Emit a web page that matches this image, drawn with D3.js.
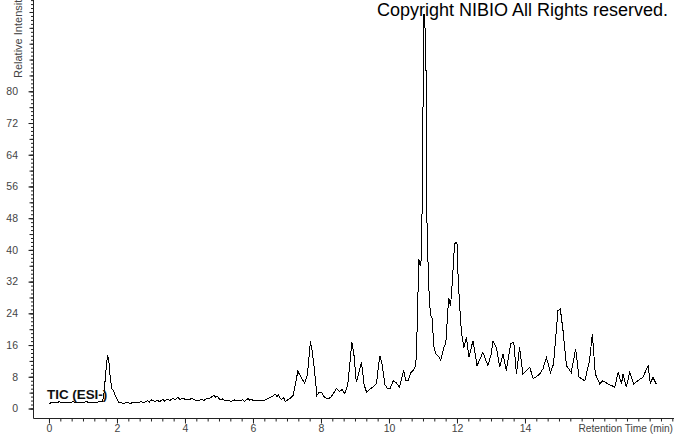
<!DOCTYPE html>
<html>
<head>
<meta charset="utf-8">
<script src="https://cdn.jsdelivr.net/npm/d3@7"></script>
<style>
  body { margin: 0; background: #fff; }
  svg { display: block; font-family: "Liberation Sans", Arial, sans-serif; }
  .axis path, .axis line { stroke: #222; }
  .axis text { fill: #444; font-size: 10.5px; }
</style>
</head>
<body>
<svg id="chart" width="674" height="434"></svg>
<script>
// Retention time (min) and relative intensity
var retentionTime = [
  0.0, 0.1, 0.2, 0.3, 0.4, 0.5, 0.6, 0.7, 0.8, 0.9, 1.0, 1.1, 1.2, 1.3, 1.4, 1.5,
  1.58, 1.62, 1.67, 1.72, 1.76, 1.8, 1.85, 1.9, 1.95, 2.0, 2.05, 2.1, 2.2, 2.3, 2.4,
  2.5, 2.6, 2.7, 2.8, 2.9, 2.95, 3.0, 3.1, 3.2, 3.25, 3.35, 3.4, 3.5, 3.55, 3.65,
  3.7, 3.8, 3.85, 3.95, 4.0, 4.1, 4.2, 4.3, 4.4, 4.5, 4.55, 4.65, 4.7, 4.8, 4.85,
  4.9, 4.95, 5.0, 5.05, 5.1, 5.2, 5.3, 5.35, 5.45, 5.5, 5.6, 5.7, 5.75, 5.85, 5.9,
  5.95, 6.0, 6.1, 6.2, 6.3, 6.4, 6.5, 6.6, 6.65, 6.7, 6.75, 6.8, 6.85, 6.9, 6.95,
  7.0, 7.05, 7.1, 7.18, 7.32, 7.42, 7.52, 7.6, 7.69, 7.75, 7.81, 7.88, 7.95, 8.01,
  8.1, 8.21, 8.3, 8.45, 8.55, 8.62, 8.7, 8.79, 8.91, 8.97, 9.04, 9.19, 9.27, 9.34,
  9.45, 9.53, 9.63, 9.73, 9.8, 9.88, 9.97, 10.04, 10.12, 10.2, 10.31, 10.43, 10.5,
  10.56, 10.64, 10.71, 10.78, 10.81, 10.84, 10.88, 10.92, 10.96, 11.0, 11.03, 11.06,
  11.09, 11.12, 11.17, 11.22, 11.27, 11.32, 11.37, 11.47, 11.52, 11.62, 11.67, 11.74,
  11.76, 11.81, 11.86, 11.93, 12.0, 12.03, 12.08, 12.13, 12.2, 12.28, 12.35, 12.47,
  12.59, 12.68, 12.76, 12.91, 13.0, 13.06, 13.16, 13.26, 13.35, 13.45, 13.58, 13.67,
  13.75, 13.84, 13.94, 14.04, 14.14, 14.24, 14.33, 14.43, 14.53, 14.63, 14.75, 14.84,
  14.97, 15.04, 15.12, 15.22, 15.36, 15.49, 15.59, 15.76, 15.9, 15.98, 16.07, 16.2,
  16.29, 16.44, 16.54, 16.64, 16.74, 16.84, 16.88, 16.98, 17.08, 17.2, 17.32, 17.47,
  17.62, 17.69, 17.76, 17.86
];
var intensity = [
  1.2, 1.6, 1.4, 1.7, 1.5, 1.6, 1.4, 1.7, 1.5, 1.6, 1.5, 1.7, 1.5, 1.6, 1.6, 1.7,
  1.8, 4.0, 9.0, 13.5, 12.0, 8.0, 5.0, 4.5, 3.2, 2.4, 1.6, 1.5, 1.3, 1.5, 1.3,
  1.6, 1.4, 1.7, 1.5, 2.0, 1.6, 2.2, 1.8, 2.0, 1.7, 2.3, 1.9, 2.4, 2.0, 2.5,
  2.2, 2.8, 2.3, 2.6, 2.3, 2.2, 2.5, 2.1, 2.0, 2.3, 2.0, 2.6, 2.4, 3.0, 3.4,
  2.8, 3.1, 2.5, 2.2, 2.4, 1.9, 2.0, 1.8, 2.2, 1.9, 2.0, 2.2, 1.8, 2.5, 2.1,
  2.4, 2.0, 1.9, 1.9, 2.0, 2.3, 2.8, 3.2, 3.7, 3.0, 3.4, 2.6, 2.3, 2.8, 1.8,
  2.0, 2.4, 2.6, 3.3, 9.4, 7.8, 6.4, 8.5, 16.9, 14.0, 9.6, 3.3, 4.1, 4.1,
  2.9, 2.4, 2.9, 5.0, 4.3, 4.8, 3.7, 6.2, 16.7, 13.5, 6.6, 11.6, 6.0, 4.1,
  5.0, 5.4, 6.2, 13.3, 11.0, 6.0, 4.9, 5.1, 7.0, 6.6, 5.4, 9.6, 7.0,
  7.0, 9.0, 9.6, 10.6, 13.8, 25.0, 37.7, 36.0, 38.0, 75.0, 99.5, 96.0,
  85.0, 45.0, 30.7, 23.6, 22.7, 15.6, 13.9, 13.0, 12.2, 15.6, 16.3, 25.7,
  27.8, 25.8, 31.6, 41.7, 41.8, 34.0, 25.7, 19.4, 15.4, 17.9, 12.9, 17.1,
  10.8, 12.5, 14.2, 10.8, 13.5, 17.1, 15.4, 10.4, 13.8, 9.6, 16.3, 16.7,
  8.7, 15.4, 8.7, 9.5, 10.4, 7.5, 8.0, 8.7, 10.0, 12.9, 9.1, 11.2,
  24.7, 25.1, 19.6, 10.8, 9.1, 15.0, 7.9, 7.0, 12.1, 18.8, 8.7, 6.2,
  7.0, 6.2, 5.8, 5.4, 9.1, 6.2, 8.7, 5.4, 9.1, 6.2, 7.0, 7.9,
  10.8, 6.2, 7.9, 6.2
];

var xTickValues = [0, 2, 4, 6, 8, 10, 12, 14];
var yTickValues = [0, 8, 16, 24, 32, 40, 48, 56, 64, 72, 80];
var xTitle = "Retention Time (min)";
var yTitle = "Relative Intensity";
var traceLabel = "TIC (ESI-)";
var copyrightText = "Copyright NIBIO All Rights reserved.";

var svg = d3.select("#chart");

var axisX = 33.5;
var axisY = 418.5;

var x = d3.scaleLinear().domain([-0.47, 18.383]).range([33, 674]);
var y = d3.scaleLinear().domain([0, 103]).range([408.5, 0.1]);

var points = retentionTime.map(function(t, i) {
    return { time: t, value: intensity[i] };
});

// minor / medium ticks first
var xMinor = d3.range(0, 18.4, 1 / 3);
svg.append("g")
    .attr("class", "axis")
    .attr("transform", "translate(0," + axisY + ")")
    .call(d3.axisBottom(x).tickValues(xMinor).tickSize(3).tickFormat("").tickSizeOuter(0))
    .select(".domain").remove();

var yMinor = d3.range(0, 104, 1);
svg.append("g")
    .attr("class", "axis")
    .attr("transform", "translate(" + axisX + ",0)")
    .call(d3.axisLeft(y).tickValues(yMinor).tickSize(2.5).tickFormat("").tickSizeOuter(0))
    .select(".domain").remove();

var yMid = d3.range(0, 104, 4);
svg.append("g")
    .attr("class", "axis")
    .attr("transform", "translate(" + axisX + ",0)")
    .call(d3.axisLeft(y).tickValues(yMid).tickSize(4).tickFormat("").tickSizeOuter(0))
    .select(".domain").remove();

// labelled ticks
svg.append("g")
    .attr("class", "axis")
    .attr("transform", "translate(0," + axisY + ")")
    .call(d3.axisBottom(x).tickValues(xTickValues).tickSize(5).tickPadding(1).tickFormat(d3.format("d")))
    .select(".domain").remove();

svg.append("g")
    .attr("class", "axis")
    .attr("transform", "translate(" + axisX + ",0)")
    .call(d3.axisLeft(y).tickValues(yTickValues).tickSize(5).tickPadding(10.5).tickFormat(d3.format("d")))
    .select(".domain").remove();

// axis lines
svg.append("line")
    .attr("x1", axisX).attr("x2", axisX)
    .attr("y1", 0).attr("y2", axisY)
    .attr("stroke", "#222");
svg.append("line")
    .attr("x1", axisX).attr("x2", 674)
    .attr("y1", axisY).attr("y2", axisY)
    .attr("stroke", "#222");

// axis titles (the y title runs off the top edge, as in the original)
svg.append("text")
    .attr("transform", "translate(22,78) rotate(-90)")
    .attr("font-size", "11px")
    .attr("fill", "#444")
    .text(yTitle);

svg.append("text")
    .attr("x", 673)
    .attr("y", 432)
    .attr("text-anchor", "end")
    .attr("font-size", "10.2px")
    .attr("fill", "#444")
    .text(xTitle);

// trace
var line = d3.line()
    .x(function(d) { return x(d.time); })
    .y(function(d) { return y(d.value); });

svg.append("path")
    .datum(points)
    .attr("d", line)
    .attr("fill", "none")
    .attr("stroke", "#000")
    .attr("stroke-width", 1)
    .attr("shape-rendering", "crispEdges");

svg.append("text")
    .attr("x", 47)
    .attr("y", 399)
    .attr("font-size", "13.4px")
    .attr("font-weight", "bold")
    .attr("fill", "#111")
    .text(traceLabel);

svg.append("text")
    .attr("x", 377)
    .attr("y", 15.5)
    .attr("font-size", "18px")
    .attr("fill", "#000")
    .text(copyrightText);
</script>
</body>
</html>
